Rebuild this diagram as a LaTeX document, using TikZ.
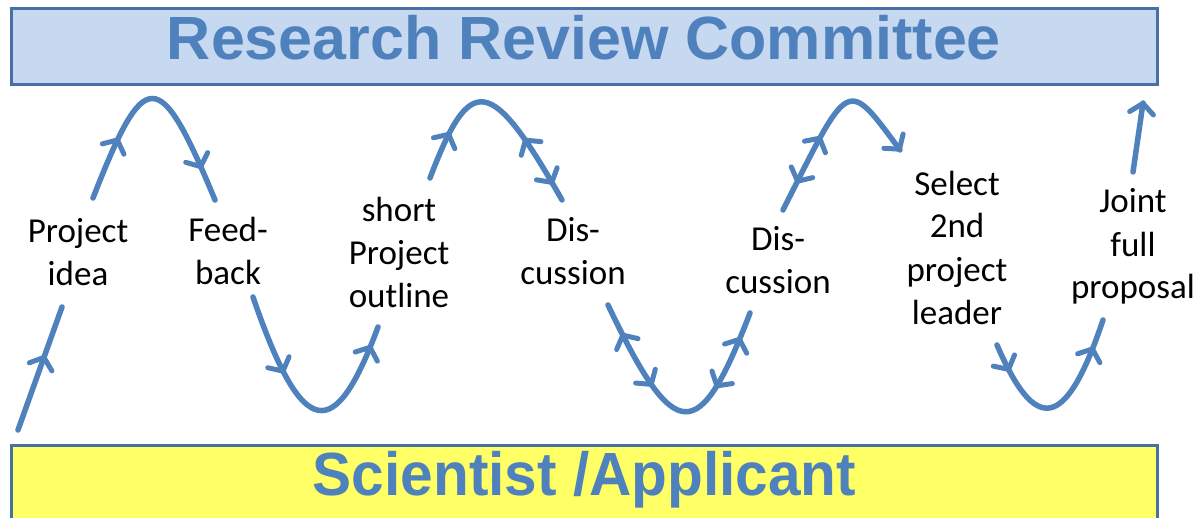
\documentclass[tikz,border=0pt]{standalone}
\usepackage{fontspec}
\setmainfont{Carlito}
\newfontfamily\titlefont{Liberation Sans}
\usetikzlibrary{decorations.markings}
\definecolor{rrcblue}{RGB}{79,129,189}
\definecolor{boxline}{RGB}{72,112,165}
\definecolor{topfill}{RGB}{198,217,241}
\definecolor{botfill}{RGB}{255,255,102}
\tikzset{
  titlebox/.style={draw=boxline, line width=3pt, rectangle, inner sep=0pt,
    text=rrcblue, font=\titlefont\bfseries\fontsize{61}{70}\selectfont,
    minimum width=1146pt},
  lbl/.style={align=center, anchor=base, inner sep=0pt,
    font=\fontsize{35}{43}\selectfont},
  flow/.style={draw=rrcblue, line width=5.5pt, line cap=round},
  chev/.style={draw=rrcblue, line width=5pt, line cap=round, line join=round},
  fwd/.style={postaction={decorate, decoration={markings,
    mark=at position #1 with {\draw[chev] (-10pt,-12pt) -- (0pt,0pt) -- (-10pt,12pt);}}}},
  bwd/.style={postaction={decorate, decoration={markings,
    mark=at position #1 with {\draw[chev] (10pt,-12pt) -- (0pt,0pt) -- (10pt,12pt);}}}}
}
\begin{document}
\begin{tikzpicture}[x=1pt,y=-1pt]
\useasboundingbox (0,0) rectangle (1201,518);
% boxes
\node[titlebox, fill=topfill, minimum height=76pt, text height=45pt, text depth=19pt]
  (rrc) at (584,47) {Research Review Committee};
\node[titlebox, fill=botfill, minimum height=100pt, text height=30pt, text depth=30pt]
  (sci) at (584.5,495) {\scalebox{0.96}[1]{Scientist /Applicant}};
% steps (base = last line)
\node[lbl] (idea) at (78,286) {Project\\idea};
\node[lbl] (feedback) at (228,285) {Feed-\\back};
\node[lbl] (outline) at (399,308) {short\\Project\\outline};
\node[lbl] (disc1) at (573,285) {Dis-\\cussion};
\node[lbl] (disc2) at (778,294) {Dis-\\cussion};
\node[lbl] (select) at (957,324) {Select\\2nd\\project\\leader};
\node[lbl] (joint) at (1133,299) {Joint\\full\\proposal};
% curve ends
\coordinate (start) at (18,430);
\coordinate (idea-bot) at (62,307);
\coordinate (idea-top) at (93,198);
\coordinate (feed-top) at (215,200);
\coordinate (feed-bot) at (253,297);
\coordinate (outline-bot) at (378,327);
\coordinate (outline-top) at (430,178);
\coordinate (disc1-top) at (562,200);
\coordinate (disc1-bot) at (608,305);
\coordinate (disc2-bot) at (750,313);
\coordinate (disc2-top) at (783,210);
\coordinate (select-top) at (900,150);
\coordinate (select-bot) at (997,345);
\coordinate (joint-bot) at (1103,320);
\coordinate (joint-top) at (1133,172);
\coordinate (finish) at (1143,103);
% flow
\draw[flow, fwd=0.59] (start) -- (idea-bot);
\draw[flow, fwd=0.26, fwd=0.85] (idea-top) .. controls +(52,-133) and +(-56,-135) .. (feed-top);
\draw[flow, fwd=0.33, fwd=0.91] (feed-bot) .. controls +(50,146) and +(-43,116) .. (outline-bot);
\draw[flow, fwd=0.21, bwd=0.69, fwd=0.91] (outline-top) .. controls +(40,-105) and +(-72,-127) .. (disc1-top);
\draw[flow, bwd=0.13, fwd=0.35, bwd=0.69, fwd=0.89] (disc1-bot) .. controls +(67,141) and +(-51,133) .. (disc2-bot);
\draw[flow, bwd=0.16, fwd=0.4, fwd=0.995] (disc2-top) .. controls +(67,-133) and +(-54,-73) .. (select-top);
\draw[flow, fwd=0.14, fwd=0.84] (select-bot) .. controls +(38,88) and +(-38,113) .. (joint-bot);
\draw[flow, fwd=0.995] (joint-top) -- (finish);
\end{tikzpicture}
\end{document}
